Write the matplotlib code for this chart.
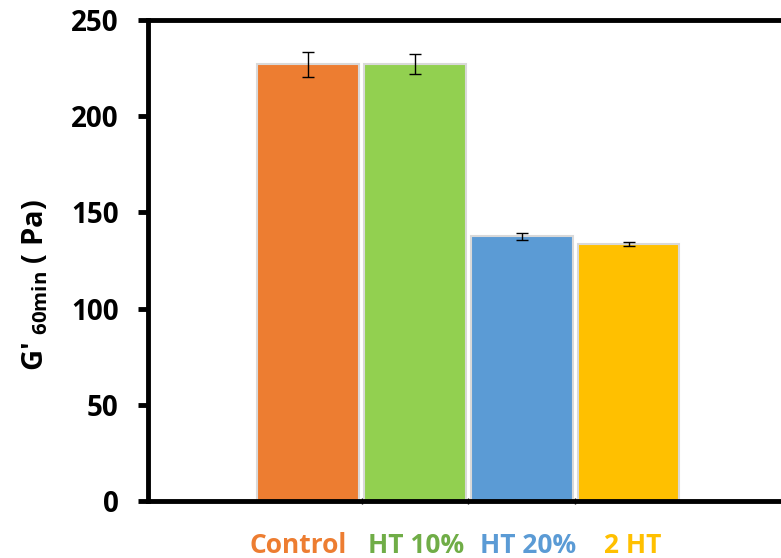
import numpy as np
import matplotlib.pyplot as plt
from matplotlib.ticker import FixedLocator

categories = ["Control", "HT 10%", "HT 20%", "2 HT"]
values = [227.0, 227.0, 137.6, 133.4]
errors = [6.4, 5.3, 1.7, 1.0]
bar_colors = ["#ED7D31", "#92D050", "#5B9BD5", "#FFC000"]
label_colors = ["#ED7D31", "#70AD47", "#5B9BD5", "#FFC000"]
label_shift = [-0.09, 0.01, 0.06, 0.04]
y_ticks = [0, 50, 100, 150, 200, 250]

plt.rcParams["font.family"] = ["Open Sans", "DejaVu Sans"]
plt.rcParams["mathtext.fontset"] = "custom"
plt.rcParams["mathtext.bf"] = "Open Sans:bold"
plt.rcParams["mathtext.rm"] = "Open Sans"

fig = plt.figure(figsize=(7.81, 5.58), dpi=100)
ax = fig.add_axes([148 / 781, 1 - 501 / 558, 1 - 148 / 781 + 0.01, (501 - 20) / 558])

x = np.arange(1, len(categories) + 1)
ax.bar(x, values, width=0.95, color=bar_colors, edgecolor="#d9d9d9", linewidth=1.5,
       yerr=errors, error_kw=dict(ecolor="black", elinewidth=1.0, capsize=4.5, capthick=1.0),
       zorder=2)

ax.set_xlim(-0.5, 5.5)
ax.set_ylim(0, 250)
ax.set_yticks(y_ticks)
ax.set_yticklabels([str(t) for t in y_ticks], fontsize=20, fontweight="bold")

ax.xaxis.set_major_locator(FixedLocator([1.5, 2.5, 3.5]))
ax.set_xticklabels([])
ax.tick_params(axis="x", direction="inout", length=5, width=1)
ax.tick_params(axis="y", direction="out", length=7, width=3.5, pad=14)

for side in ["left", "bottom", "top"]:
    ax.spines[side].set_linewidth(3.5)
ax.spines["right"].set_visible(False)

# coloured category names under the bars
for xi, name, col, dx in zip(x, categories, label_colors, label_shift):
    ax.text(xi + dx, -0.092, name, transform=ax.get_xaxis_transform(), ha="center", va="center",
            fontsize=19, fontweight="bold", color=col)

ax.set_ylabel(r"G' $_{\mathbf{60min}}$ ( Pa)", fontsize=21, fontweight="bold")
ax.yaxis.set_label_coords(-0.152, 0.45)

fig.savefig("out.png", dpi=100)
